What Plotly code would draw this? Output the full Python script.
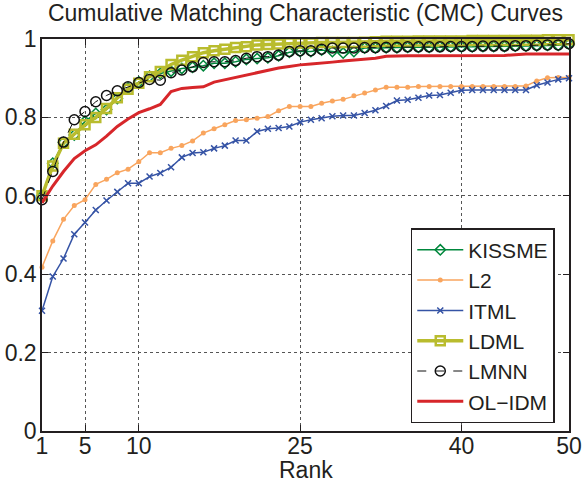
import plotly.graph_objects as go

ranks = list(range(1, 51))

kissme = [0.600, 0.683, 0.736, 0.755, 0.790, 0.810, 0.820, 0.848, 0.875, 0.890,
          0.905, 0.912, 0.918, 0.925, 0.928, 0.932, 0.938, 0.938, 0.942, 0.948,
          0.950, 0.952, 0.957, 0.966, 0.968, 0.968, 0.972, 0.968, 0.964, 0.968,
          0.977, 0.977, 0.978, 0.978, 0.979, 0.979, 0.979, 0.980, 0.980, 0.980,
          0.980, 0.981, 0.981, 0.981, 0.982, 0.982, 0.983, 0.984, 0.984, 0.987]

l2 = [0.418, 0.485, 0.540, 0.575, 0.590, 0.629, 0.642, 0.659, 0.668, 0.687,
      0.710, 0.710, 0.721, 0.728, 0.740, 0.760, 0.771, 0.781, 0.792, 0.794,
      0.798, 0.802, 0.817, 0.828, 0.828, 0.828, 0.836, 0.842, 0.846, 0.855,
      0.862, 0.870, 0.877, 0.877, 0.877, 0.879, 0.879, 0.879, 0.879, 0.879,
      0.879, 0.879, 0.879, 0.879, 0.879, 0.880, 0.893, 0.901, 0.902, 0.902]

itml = [0.307, 0.394, 0.440, 0.502, 0.532, 0.564, 0.588, 0.610, 0.632, 0.632,
        0.649, 0.658, 0.673, 0.698, 0.709, 0.711, 0.721, 0.728, 0.741, 0.741,
        0.764, 0.771, 0.773, 0.777, 0.788, 0.794, 0.798, 0.803, 0.805, 0.805,
        0.811, 0.818, 0.829, 0.843, 0.845, 0.850, 0.856, 0.857, 0.863, 0.869,
        0.870, 0.870, 0.870, 0.870, 0.870, 0.870, 0.882, 0.889, 0.897, 0.900]

ldml = [0.600, 0.676, 0.734, 0.757, 0.781, 0.800, 0.823, 0.850, 0.872, 0.887,
        0.904, 0.917, 0.935, 0.946, 0.955, 0.965, 0.970, 0.974, 0.978, 0.980,
        0.985, 0.986, 0.987, 0.990, 0.990, 0.990, 0.991, 0.991, 0.991, 0.991,
        0.992, 0.993, 0.994, 0.994, 0.994, 0.995, 0.995, 0.995, 0.995, 0.995,
        0.996, 0.996, 0.996, 0.996, 0.996, 0.997, 0.997, 0.998, 0.998, 0.998]

lmnn = [0.590, 0.662, 0.737, 0.794, 0.815, 0.840, 0.856, 0.868, 0.878, 0.889,
        0.897, 0.895, 0.914, 0.921, 0.929, 0.940, 0.942, 0.942, 0.945, 0.951,
        0.955, 0.955, 0.959, 0.968, 0.970, 0.970, 0.974, 0.977, 0.977, 0.977,
        0.978, 0.978, 0.979, 0.979, 0.980, 0.980, 0.980, 0.980, 0.981, 0.981,
        0.981, 0.982, 0.982, 0.982, 0.983, 0.983, 0.984, 0.985, 0.985, 0.988]

olidm = [0.582, 0.625, 0.662, 0.695, 0.715, 0.730, 0.752, 0.777, 0.796, 0.812,
         0.822, 0.833, 0.866, 0.874, 0.876, 0.878, 0.890, 0.896, 0.902, 0.908,
         0.914, 0.920, 0.926, 0.930, 0.934, 0.936, 0.938, 0.941, 0.944, 0.946,
         0.948, 0.951, 0.956, 0.957, 0.957, 0.957, 0.957, 0.957, 0.957, 0.957,
         0.957, 0.957, 0.957, 0.958, 0.960, 0.962, 0.962, 0.962, 0.962, 0.962]

x_ticks = [1, 5, 10, 25, 40, 50]
y_ticks = [0, 0.2, 0.4, 0.6, 0.8, 1]
y_tick_text = ["0", "0.2", "0.4", "0.6", "0.8", "1"]

TXT = "#231f20"
FONT = "Liberation Sans, Arial, sans-serif"
FS = 23

fig = go.Figure()
fig.add_trace(go.Scatter(x=ranks, y=kissme, name="KISSME", mode="lines+markers",
                         line=dict(color="#00873c", width=1.5),
                         marker=dict(symbol="diamond-open", size=8, color="#00873c",
                                     line=dict(width=1.5, color="#00873c")),
                         cliponaxis=False))
fig.add_trace(go.Scatter(x=ranks, y=l2, name="L2", mode="lines+markers",
                         line=dict(color="#f9a55e", width=1.5),
                         marker=dict(symbol="circle", size=5, color="#f9a55e"),
                         cliponaxis=False))
fig.add_trace(go.Scatter(x=ranks, y=itml, name="ITML", mode="lines+markers",
                         line=dict(color="#3553a5", width=1.5),
                         marker=dict(symbol="x-thin-open", size=6, color="#3553a5",
                                     line=dict(width=1.5, color="#3553a5")),
                         cliponaxis=False))
fig.add_trace(go.Scatter(x=ranks, y=ldml, name="LDML", mode="lines+markers",
                         line=dict(color="#b9bc2e", width=3.5),
                         marker=dict(symbol="square-open", size=9, color="#b9bc2e",
                                     line=dict(width=2.5, color="#b9bc2e")),
                         cliponaxis=False))
fig.add_trace(go.Scatter(x=ranks, y=lmnn, name="LMNN", mode="lines+markers",
                         line=dict(color="#111111", width=1, dash="dash"),
                         marker=dict(symbol="circle-open", size=10, color="#111111",
                                     line=dict(width=1.5, color="#111111")),
                         cliponaxis=False))
fig.add_trace(go.Scatter(x=ranks, y=olidm, name="OL\u2212IDM", mode="lines",
                         line=dict(color="#d7262a", width=3),
                         cliponaxis=False))

axis_common = dict(
    showline=True, linecolor=TXT, linewidth=1.5, mirror="ticks",
    ticks="inside", ticklen=6, tickcolor=TXT, tickwidth=1,
    showgrid=True, gridcolor="#555555", gridwidth=1, griddash="dot",
    zeroline=False, automargin=False,
    tickfont=dict(size=FS, color=TXT, family=FONT),
)

fig.update_layout(
    width=586, height=483,
    margin=dict(l=42, r=17, t=39, b=52),
    paper_bgcolor="white", plot_bgcolor="white",
    font=dict(family=FONT, size=FS, color=TXT),
    title=dict(text="Cumulative Matching Characteristic (CMC) Curves",
               font=dict(size=FS, color=TXT, family=FONT),
               x=0.5, xref="paper", xanchor="center",
               y=1 - 13 / 483, yref="container", yanchor="middle"),
    xaxis=dict(range=[1, 50], tickvals=x_ticks, ticklabelstandoff=-6,
               **axis_common),
    yaxis=dict(range=[0, 1], tickvals=y_ticks, ticktext=y_tick_text,
               ticklabelstandoff=-1, **axis_common),
    legend=dict(x=0.973, y=0.02, xanchor="right", yanchor="bottom",
                bgcolor="white", bordercolor=TXT, borderwidth=1.5,
                font=dict(size=21, color=TXT, family=FONT),
                tracegroupgap=0, itemwidth=46),
    showlegend=True,
    annotations=[dict(text="Rank", xref="paper", x=0.5, xanchor="center",
                      yref="paper", y=-0.1006, yanchor="middle",
                      showarrow=False,
                      font=dict(size=FS, color=TXT, family=FONT))],
)

fig.write_html("out.html")
